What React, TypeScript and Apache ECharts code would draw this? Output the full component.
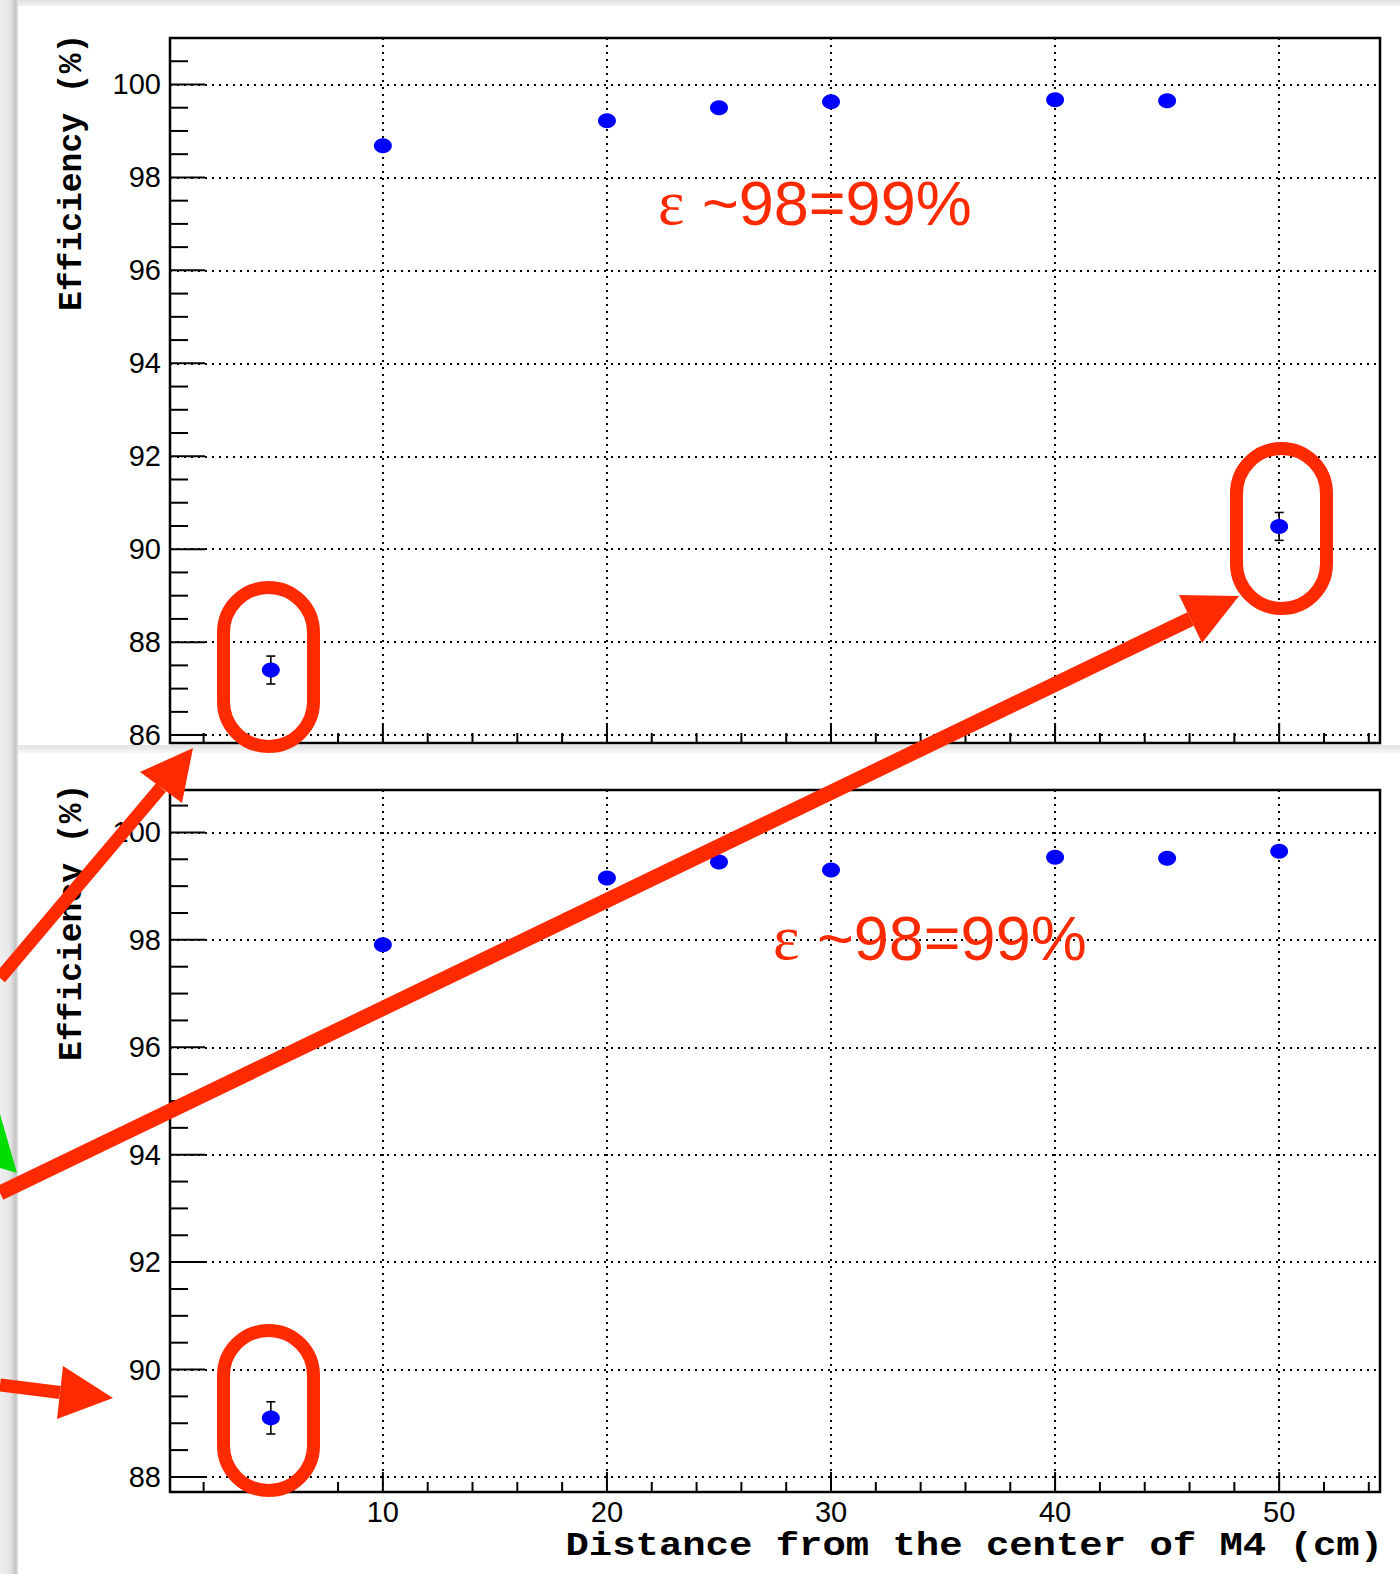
import React, { useEffect, useRef } from 'react';
import * as echarts from 'echarts';

// ---- data ----
const distances = [5, 10, 20, 25, 30, 40, 45, 50];
const effTop = [87.4, 98.68, 99.22, 99.5, 99.63, 99.67, 99.65, 90.49];
const errTop = [0.3, 0.06, 0.05, 0.04, 0.04, 0.04, 0.04, 0.3];
const effBottom = [89.1, 97.91, 99.15, 99.45, 99.3, 99.54, 99.52, 99.65];
const errBottom = [0.3, 0.08, 0.06, 0.05, 0.05, 0.05, 0.05, 0.05];

const xRange = [0.5, 54.5];
const yRangeTop = [85.83, 101.0];
const yRangeBottom = [87.72, 100.79];

const xTickLabels = [10, 20, 30, 40, 50];
const yTickLabelsTop = [86, 88, 90, 92, 94, 96, 98, 100];
const yTickLabelsBottom = [88, 90, 92, 94, 96, 98, 100];
const xMinorStep = 2;
const yMinorStep = 0.5;

const yTitle = 'Efficiency (%)';
const xTitle = 'Distance from the center of M4 (cm)';
const annotationText = '{e|ε} ~98=99%';

const RED = '#ff2a00';

function steps(from: number, to: number, step: number): number[] {
  const out: number[] = [];
  const n = Math.round((to - from) / step);
  for (let i = 0; i <= n; i++) out.push(+(from + i * step).toFixed(4));
  return out;
}

function tickData(yr: number[], yMajors: number[]) {
  const d: number[][] = [];
  const xs = steps(xMinorStep, Math.floor(xRange[1] / xMinorStep) * xMinorStep, xMinorStep);
  xs.forEach((v) => d.push([v, xTickLabels.includes(v) ? 1 : 0, 0]));
  const ys = steps(Math.ceil(yr[0] / yMinorStep) * yMinorStep, Math.floor(yr[1] / yMinorStep) * yMinorStep, yMinorStep);
  ys.forEach((v) => d.push([v, yMajors.includes(v) ? 1 : 0, 1]));
  return d;
}

export default function App() {
  const ref = useRef<HTMLDivElement>(null);
  useEffect(() => {
    document.body.style.margin = '0';
    const chart = echarts.init(ref.current!, null, { renderer: 'svg' });

    const grids = [
      { left: 170, top: 38, width: 1210, height: 705 },
      { left: 170, top: 790, width: 1210, height: 702 },
    ];
    const yRanges = [yRangeTop, yRangeBottom];
    const yLabels = [yTickLabelsTop, yTickLabelsBottom];
    const effs = [effTop, effBottom];
    const errs = [errTop, errBottom];

    const dotted = { color: '#000', width: 2, type: [2, 5] as number[] };
    const labelFont = { fontFamily: 'Liberation Sans', fontSize: 29, color: '#000' };

    const xAxes = grids.map((_, i) => ({
      type: 'value',
      gridIndex: i,
      min: xRange[0],
      max: xRange[1],
      splitNumber: 5,
      axisLine: { show: false },
      axisTick: { show: false },
      splitLine: { show: true, lineStyle: dotted },
      axisLabel: {
        show: i === 1,
        margin: 5,
        ...labelFont,
        formatter: (v: number) => (xTickLabels.includes(Math.round(v)) && Math.abs(v - Math.round(v)) < 1e-6 ? String(Math.round(v)) : ''),
      },
    }));
    const yAxes = grids.map((_, i) => ({
      type: 'value',
      gridIndex: i,
      min: yRanges[i][0],
      max: yRanges[i][1],
      splitNumber: 8,
      axisLine: { show: false },
      axisTick: { show: false },
      splitLine: { show: true, lineStyle: dotted },
      axisLabel: {
        margin: 9,
        ...labelFont,
        formatter: (v: number) => {
          const r = Math.round(v);
          return Math.abs(v - r) < 1e-6 && yLabels[i].includes(r) ? String(r) : '';
        },
      },
    }));

    const series: any[] = [];
    grids.forEach((_, i) => {
      const yr = yRanges[i];
      series.push({
        type: 'custom',
        xAxisIndex: i,
        yAxisIndex: i,
        silent: true,
        z: 3,
        data: tickData(yr, yLabels[i]),
        renderItem: (params: any, api: any) => {
          const cs = params.coordSys;
          const v = api.value(0);
          const major = api.value(1) === 1;
          const axis = api.value(2);
          if (axis === 0) {
            const p = api.coord([v, yr[0]]);
            const b = cs.y + cs.height;
            const len = major ? 20 : 10;
            return { type: 'line', shape: { x1: p[0], y1: b, x2: p[0], y2: b - len }, style: { stroke: '#000', lineWidth: 2 } };
          }
          const p = api.coord([xRange[0], v]);
          const len = major ? 35 : 18;
          return { type: 'line', shape: { x1: cs.x, y1: p[1], x2: cs.x + len, y2: p[1] }, style: { stroke: '#000', lineWidth: 2 } };
        },
      });
      series.push({
        type: 'custom',
        xAxisIndex: i,
        yAxisIndex: i,
        silent: true,
        z: 4,
        data: distances.map((d, k) => [d, effs[i][k], errs[i][k]]),
        renderItem: (params: any, api: any) => {
          const x = api.value(0);
          const y = api.value(1);
          const e = api.value(2);
          const t = api.coord([x, y + e]);
          const b = api.coord([x, y - e]);
          const c = 4.5;
          const st = { stroke: '#000', lineWidth: 1.6 };
          return {
            type: 'group',
            children: [
              { type: 'line', shape: { x1: t[0], y1: t[1], x2: b[0], y2: b[1] }, style: st },
              { type: 'line', shape: { x1: t[0] - c, y1: t[1], x2: t[0] + c, y2: t[1] }, style: st },
              { type: 'line', shape: { x1: b[0] - c, y1: b[1], x2: b[0] + c, y2: b[1] }, style: st },
            ],
          };
        },
      });
      series.push({
        type: 'scatter',
        xAxisIndex: i,
        yAxisIndex: i,
        z: 5,
        symbol: 'circle',
        symbolSize: [18, 15],
        itemStyle: { color: '#0000ff', opacity: 1 },
        data: distances.map((d, k) => [d, effs[i][k]]),
      });
    });

    const arrow = (x1: number, y1: number, tip: number[], c1: number[], c2: number[], w: number) => {
      const bx = (c1[0] + c2[0]) / 2;
      const by = (c1[1] + c2[1]) / 2;
      return [
        { type: 'line', z: 100, shape: { x1, y1, x2: bx, y2: by }, style: { stroke: RED, lineWidth: w } },
        { type: 'polygon', z: 100, shape: { points: [tip, c1, c2] }, style: { fill: RED } },
      ];
    };

    const stadium = (x: number, y: number, w: number, h: number) => ({
      type: 'rect',
      z: 100,
      shape: { x, y, width: w, height: h, r: w / 2 },
      style: { fill: 'none', stroke: RED, lineWidth: 13 },
    });

    const ann = (x: number, y: number) => ({
      type: 'text',
      z: 100,
      x,
      y,
      style: {
        text: annotationText,
        fill: RED,
        fontFamily: 'Liberation Sans',
        fontSize: 63,
        align: 'left',
        verticalAlign: 'middle',
        rich: { e: { fontFamily: 'Liberation Serif', fontSize: 63, fill: RED } },
      },
    });

    const graphics: any[] = [
      // background shading of the pasted screenshots
      {
        type: 'rect', z: -10, shape: { x: 0, y: 0, width: 1400, height: 6 },
        style: { fill: new echarts.graphic.LinearGradient(0, 0, 0, 1, [{ offset: 0, color: '#e0e0e0' }, { offset: 1, color: '#f2f2f2' }]) },
      },
      {
        type: 'rect', z: -10, shape: { x: 18, y: 745, width: 1382, height: 8 },
        style: { fill: new echarts.graphic.LinearGradient(0, 0, 0, 1, [{ offset: 0, color: '#e2e2e2' }, { offset: 1, color: '#f7f7f7' }]) },
      },
      {
        type: 'rect', z: -9, shape: { x: 0, y: 0, width: 18, height: 1574 },
        style: {
          fill: new echarts.graphic.LinearGradient(0, 0, 1, 0, [
            { offset: 0, color: '#efefef' },
            { offset: 0.55, color: '#e6e6e6' },
            { offset: 0.85, color: '#c6c6c6' },
            { offset: 1, color: '#dedede' },
          ]),
        },
      },
      // axis titles
      {
        type: 'text', z: 50, x: 72, y: 311, rotation: Math.PI / 2,
        style: { text: yTitle, fontFamily: 'Liberation Mono', fontWeight: 'bold', fontSize: 33, fill: '#000', align: 'left', verticalAlign: 'middle' },
      },
      {
        type: 'text', z: 50, x: 72, y: 1061, rotation: Math.PI / 2,
        style: { text: yTitle, fontFamily: 'Liberation Mono', fontWeight: 'bold', fontSize: 33, fill: '#000', align: 'left', verticalAlign: 'middle' },
      },
      {
        type: 'text', z: 50, x: 1383, y: 1546, scaleX: 1.18,
        style: { text: xTitle, fontFamily: 'Liberation Mono', fontWeight: 'bold', fontSize: 33, fill: '#000', align: 'right', verticalAlign: 'middle' },
      },
      // green arrow fragment
      { type: 'polygon', z: 90, shape: { points: [[0, 1114], [17, 1173], [0, 1168]] }, style: { fill: '#00dd00' } },
      // red annotations
      stadium(223.5, 587.5, 90, 159),
      stadium(1236.5, 448.5, 90, 160),
      stadium(223.5, 1330.5, 90, 160),
      ...arrow(0, 978, [193, 748], [140, 772], [182, 803], 13),
      ...arrow(0, 1193, [1239, 596], [1179, 595], [1202, 643], 15),
      ...arrow(0, 1385, [113, 1398], [63, 1366], [57, 1419], 13),
      ann(658, 202.5),
      ann(773, 938),
    ];

    chart.setOption({
      animation: false,
      backgroundColor: '#fff',
      grid: grids.map((g) => ({ ...g, show: true, borderColor: '#000', borderWidth: 2.5, backgroundColor: 'transparent', containLabel: false })),
      xAxis: xAxes,
      yAxis: yAxes,
      series,
      graphic: { elements: graphics },
    });
    return () => chart.dispose();
  }, []);
  return <div ref={ref} style={{ width: 1400, height: 1574 }} />;
}
